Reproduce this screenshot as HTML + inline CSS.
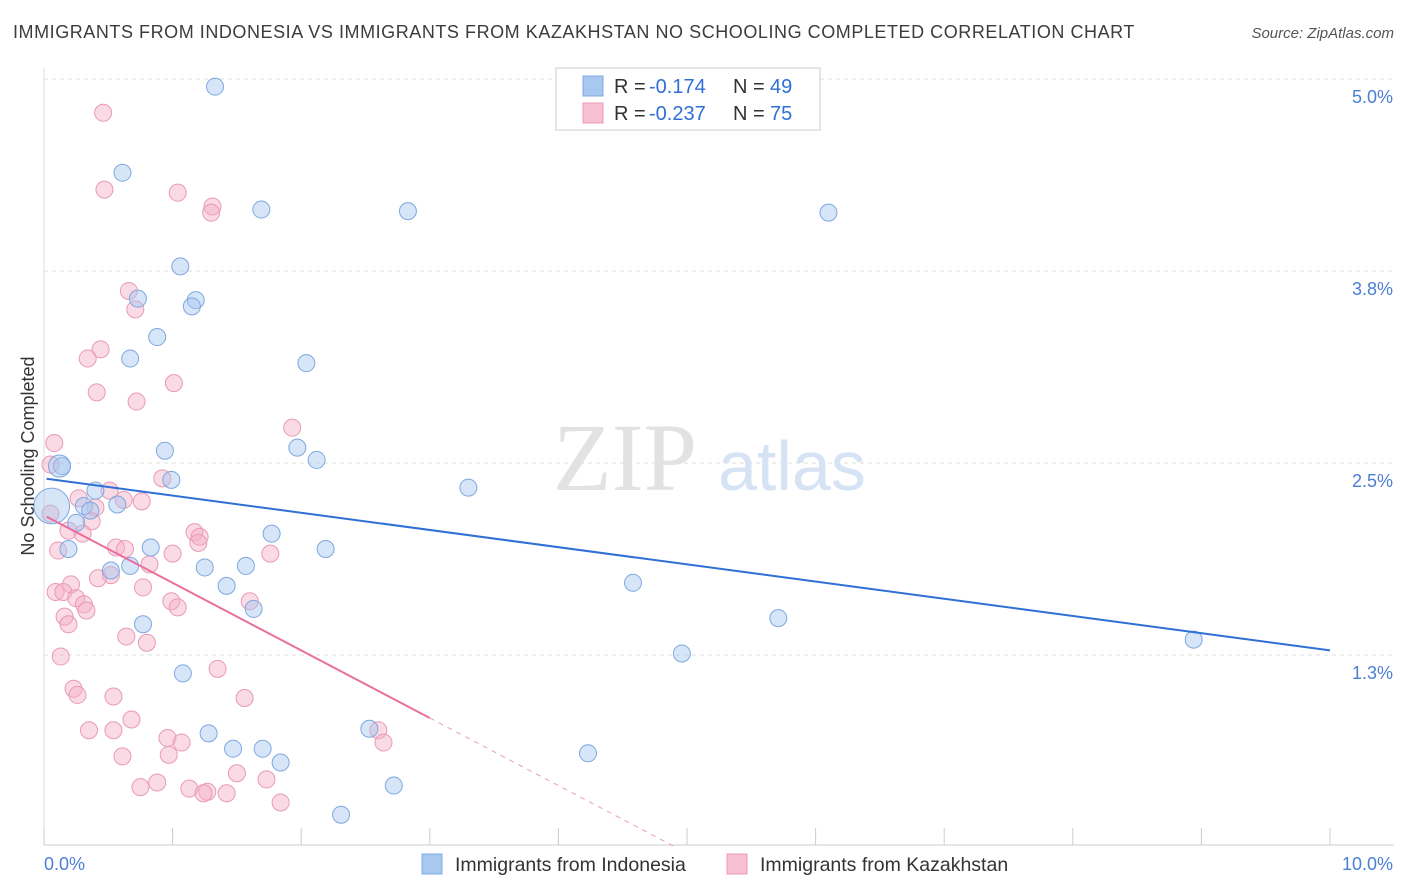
<!DOCTYPE html>
<html><head><meta charset="utf-8">
<style>
body{margin:0;background:#fff;font-family:"Liberation Sans",sans-serif;}
#wrap{position:relative;width:1406px;height:892px;overflow:hidden;}
.title{position:absolute;left:13px;top:22px;font-size:18px;color:#3c3c3c;letter-spacing:0.55px}
.source{position:absolute;right:12px;top:25px;font-size:15px;color:#555;font-style:italic}
</style></head><body>
<div id="wrap">
<div class="title">IMMIGRANTS FROM INDONESIA VS IMMIGRANTS FROM KAZAKHSTAN NO SCHOOLING COMPLETED CORRELATION CHART</div>
<div class="source">Source: ZipAtlas.com</div>
<svg id="chart" width="1406" height="892" style="position:absolute;left:0;top:0"></svg>
</div>
<script>
const blueX=[1.33,0.61,1.69,2.83,6.10,1.06,0.73,1.18,1.15,0.88,0.67,2.04,0.94,1.97,2.12,0.14,0.99,3.30,0.40,0.31,0.57,0.36,0.25,1.77,0.19,0.83,2.19,0.67,0.52,1.25,1.57,1.42,4.58,1.63,5.71,0.77,4.96,8.94,1.08,1.28,2.53,1.47,1.70,1.84,4.23,2.72,2.31,0.06,0.12];
const blueY=[4.95,4.39,4.15,4.14,4.13,3.78,3.57,3.56,3.52,3.32,3.18,3.15,2.58,2.60,2.52,2.48,2.39,2.34,2.32,2.22,2.23,2.19,2.11,2.04,1.94,1.95,1.94,1.83,1.80,1.82,1.83,1.70,1.72,1.55,1.49,1.45,1.26,1.35,1.13,0.74,0.77,0.64,0.64,0.55,0.61,0.40,0.21,2.22,2.48];
const blueSize=[1,1,1,1,1,1,1,1,1,1,1,1,1,1,1,1,1,1,1,1,1,1,1,1,1,1,1,1,1,1,1,1,1,1,1,1,1,1,1,1,1,1,1,1,1,1,1,2.1,1.3];
const pinkX=[0.46,0.47,1.04,1.31,1.30,0.66,0.71,0.44,0.34,1.01,0.41,0.72,0.08,1.93,0.05,0.92,0.51,0.27,0.62,0.40,0.76,0.05,0.37,0.19,0.30,1.17,1.21,1.20,0.56,0.63,0.11,1.00,1.76,0.82,0.52,0.42,0.21,0.09,0.15,0.77,0.25,1.60,0.99,0.31,0.33,1.04,0.16,0.19,0.64,0.80,0.13,1.35,0.23,0.26,0.54,1.56,0.68,0.35,0.54,0.96,1.07,2.60,2.64,0.61,0.97,1.50,1.73,0.88,0.75,1.13,1.27,1.24,1.42,1.84];
const pinkY=[4.78,4.28,4.26,4.17,4.13,3.62,3.50,3.24,3.18,3.02,2.96,2.90,2.63,2.73,2.49,2.40,2.32,2.27,2.26,2.21,2.25,2.17,2.12,2.06,2.04,2.05,2.02,1.98,1.95,1.94,1.93,1.91,1.91,1.84,1.77,1.75,1.71,1.66,1.66,1.69,1.62,1.60,1.60,1.58,1.54,1.56,1.50,1.45,1.37,1.33,1.24,1.16,1.03,0.99,0.98,0.97,0.83,0.76,0.76,0.71,0.68,0.76,0.68,0.59,0.60,0.48,0.44,0.42,0.39,0.38,0.36,0.35,0.35,0.29];
const blueTrend=[2.40,-0.112];
const pinkTrend=[2.16,-0.44];
const yTicks=[1.25,2.5,3.75,5.0];
const yTickLabels=["1.3%","2.5%","3.8%","5.0%"];
const xTicks=[0,1,2,3,4,5,6,7,8,9,10];

const NS="http://www.w3.org/2000/svg";
const svg=document.getElementById('chart');
const xs=v=>44+v*128.6;
const ys=v=>847-v*153.6;
function el(tag,attrs,parent){const e=document.createElementNS(NS,tag);for(const k in attrs)e.setAttribute(k,attrs[k]);(parent||svg).appendChild(e);return e;}

yTicks.forEach((t,i)=>{
  const g=el('line',{x1:44,x2:1394,y1:ys(t),y2:ys(t),stroke:'#dcdcdc','stroke-dasharray':'4,4'});
  
  
  const tx=el('text',{x:1393,y:ys(t)+24,'text-anchor':'end','font-size':18,fill:'#4a7fd4','font-family':'Liberation Sans'});
  tx.textContent=yTickLabels[i];
  
  
});
const ax=el('line',{x1:44,x2:1394,y1:845,y2:845,stroke:'#ccc'});


const ay=el('line',{x1:44,x2:44,y1:68,y2:845,stroke:'#ddd'});


xTicks.forEach(t=>{
  const l=el('line',{x1:xs(t),x2:xs(t),y1:828,y2:845,stroke:'#ccc'});
  
  
});
const wm=el('text',{x:553,y:490,'font-size':96,fill:'#e2e2e2','font-family':'Liberation Serif'});wm.textContent='ZIP';


const wm2=el('text',{x:718,y:490,'font-size':70,fill:'#d6e3f5','font-family':'Liberation Sans'});wm2.textContent='atlas';



pinkX.forEach((x,i)=>{
  const c=el('circle',{cx:xs(x),cy:ys(pinkY[i]),r:8.5,fill:'rgba(245,175,198,0.45)',stroke:'#e99ab5','stroke-width':1});
  
  
});
blueX.forEach((x,i)=>{
  const c=el('circle',{cx:xs(x),cy:ys(blueY[i]),r:8.5*blueSize[i],fill:'rgba(165,198,240,0.45)',stroke:'#7ea8e0','stroke-width':1});
  
  
});
const bt=el('line',{x1:xs(0.02),y1:ys(blueTrend[0]+blueTrend[1]*0.02),x2:xs(10),y2:ys(blueTrend[0]+blueTrend[1]*10),stroke:'#2f6fd6','stroke-width':2});


const pt=el('line',{x1:xs(0.02),y1:ys(pinkTrend[0]+pinkTrend[1]*0.02),x2:xs(3),y2:ys(pinkTrend[0]+pinkTrend[1]*3),stroke:'#e8709a','stroke-width':2});


const xEnd=-pinkTrend[0]/pinkTrend[1];
const pd=el('line',{x1:xs(3),y1:ys(pinkTrend[0]+pinkTrend[1]*3),x2:xs(xEnd),y2:ys(0),stroke:'#e8a0b8','stroke-width':1,'stroke-dasharray':'5,5'});



const xl0=el('text',{x:44,y:870,'font-size':18,fill:'#4a7fd4'});xl0.textContent='0.0%';


const xl1=el('text',{x:1393,y:870,'font-size':18,fill:'#4a7fd4','text-anchor':'end'});xl1.textContent='10.0%';


const yt=el('text',{x:0,y:0,'font-size':18,fill:'#333','text-anchor':'middle',transform:'translate(34,456) rotate(-90)'});yt.textContent='No Schooling Completed';



const lg=el('rect',{x:556,y:68,width:264,height:62,fill:'#fff',stroke:'#ccc'});


[[0,'#a9c8f0','#7ea8e0','-0.174','49'],[1,'#f7c0d1','#e99ab5','-0.237','75']].forEach(r=>{
  const y=86+r[0]*27;
  const s=el('rect',{x:583,y:y-10,width:20,height:20,fill:r[1],stroke:r[2]});
  
  
  const a=el('text',{x:614,y:y+7,'font-size':20,fill:'#333'});a.textContent='R =';
  
  
  const b=el('text',{x:649,y:y+7,'font-size':20,fill:'#2f6fd6'});b.textContent=r[3];
  
  
  const c=el('text',{x:733,y:y+7,'font-size':20,fill:'#333'});c.textContent='N =';
  
  
  const d=el('text',{x:770,y:y+7,'font-size':20,fill:'#2f6fd6'});d.textContent=r[4];
  
  
});
[[422,'#a9c8f0','#7ea8e0','Immigrants from Indonesia'],[727,'#f7c0d1','#e99ab5','Immigrants from Kazakhstan']].forEach(r=>{
  const s=el('rect',{x:r[0],y:854,width:20,height:20,fill:r[1],stroke:r[2]});
  
  
  const t=el('text',{x:r[0]+33,y:871,'font-size':19.5,fill:'#333'});t.textContent=r[3];
  
  
});
</script>
</body></html>
